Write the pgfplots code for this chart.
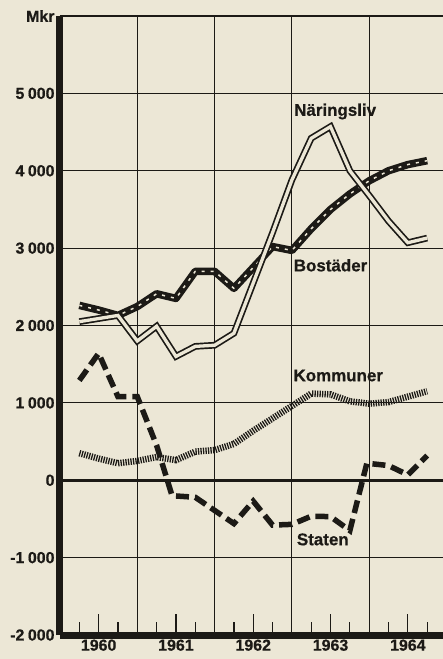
\documentclass[border=0pt]{standalone}
\usepackage{pgfplots}
\pgfplotsset{compat=1.18}
\usepackage{pgfplotstable}
\usepackage{fontspec}
\setmainfont{Liberation Sans}[FakeBold=0.6]

\definecolor{paper}{RGB}{236,231,214}
\definecolor{ink}{RGB}{28,26,22}

% quarterly values, Mkr
\pgfplotstableread{
t v
1960.25 2050
1960.5 2090
1960.75 2130
1961.0 1800
1961.25 1990
1961.5 1600
1961.75 1730
1962.0 1745
1962.25 1900
1962.5 2550
1962.75 3200
1963.0 3880
1963.25 4420
1963.5 4570
1963.75 4000
1964.0 3680
1964.25 3350
1964.5 3070
1964.75 3130
}\naring

\pgfplotstableread{
t v
1960.25 2260
1960.5 2200
1960.75 2130
1961.0 2245
1961.25 2410
1961.5 2350
1961.75 2700
1962.0 2700
1962.25 2480
1962.5 2750
1962.75 3020
1963.0 2970
1963.25 3250
1963.5 3500
1963.75 3700
1964.0 3870
1964.25 4000
1964.5 4080
1964.75 4130
}\bost

\pgfplotstableread{
t v
1960.25 350
1960.5 280
1960.75 220
1961.0 250
1961.25 300
1961.5 260
1961.75 370
1962.0 390
1962.25 470
1962.5 640
1962.75 800
1963.0 960
1963.25 1120
1963.5 1110
1963.75 1020
1964.0 990
1964.25 1010
1964.5 1080
1964.75 1150
}\komm

\pgfplotstableread{
t v
1960.25 1290
1960.5 1640
1960.75 1080
1961.0 1080
1961.25 450
1961.45 -200
1961.75 -220
1962.0 -390
1962.25 -560
1962.5 -270
1962.75 -580
1963.0 -570
1963.25 -465
1963.5 -470
1963.75 -650
1963.97 220
1964.25 190
1964.5 70
1964.75 320
}\staten

\newcommand{\tsp}{\hspace{0.22em}}

\begin{document}
\begin{tikzpicture}
\fill[paper] (-60bp,-24bp) rectangle (383bp,635bp);
\begin{axis}[
    at={(0,0)}, anchor=south west,
    scale only axis, width=383bp, height=619bp,
    xmin=1960, xmax=1964.955, ymin=-2000, ymax=6000,
    axis x line*=bottom, axis y line*=left,
    axis line style={ink, line width=7bp, -},
    tick align=inside,
    xtick={1960.5,1961.5,1962.5,1963.5,1964.5},
    xticklabels={1960,1961,1962,1963,1964},
    minor xtick={1960.25,1960.75,1961.25,1961.75,1962.25,1962.75,1963.25,1963.75,1964.25,1964.75},
    major tick length=21bp, minor tick length=13bp,
    xtick style={ink, line width=1.2bp},
    extra x ticks={1961,1962,1963,1964},
    extra x tick labels={},
    extra x tick style={xmajorgrids=true, major tick length=0pt},
    ytick={-2000,-1000,0,1000,2000,3000,4000,5000,6000},
    yticklabels={-2\tsp000,-1\tsp000,0,1\tsp000,2\tsp000,3\tsp000,4\tsp000,5\tsp000,Mkr},
    ymajorgrids=true,
    ytick style={draw=none},
    extra y ticks={0},
    extra y tick labels={},
    extra y tick style={grid style={ink, line width=3.5bp}},
    grid style={ink, line width=1.1bp},
    ticklabel style={font=\fontsize{16}{16}\selectfont\bfseries, text=ink},
    yticklabel style={xshift=-2bp},
    xticklabel style={yshift=-1bp},
]
\addplot[ink, line width=7.5bp, line join=round] table {\bost};
\addplot[paper, line width=1.5bp, dash pattern=on 3bp off 6bp] table {\bost};
\addplot[ink, double=paper, double distance=3.3bp, line width=1.7bp, line join=miter] table {\naring};
\addplot[ink, line width=6.5bp, dash pattern=on 1.3bp off 1.2bp] table {\komm};
\addplot[ink, line width=5.5bp, dash pattern=on 13bp off 6bp] table {\staten};

\node[font=\fontsize{17}{17}\selectfont\bfseries, text=ink, anchor=base] at (axis cs:1963.56,4710) {Näringsliv};
\node[font=\fontsize{17}{17}\selectfont\bfseries, text=ink, anchor=base] at (axis cs:1963.50,2700) {Bostäder};
\node[font=\fontsize{17}{17}\selectfont\bfseries, text=ink, anchor=base] at (axis cs:1963.60,1280) {Kommuner};
\node[font=\fontsize{17}{17}\selectfont\bfseries, text=ink, anchor=base] at (axis cs:1963.40,-840) {Staten};
\end{axis}
\pgfresetboundingbox
\path[use as bounding box] (-60bp,-24bp) rectangle (383bp,635bp);
\end{tikzpicture}
\end{document}
